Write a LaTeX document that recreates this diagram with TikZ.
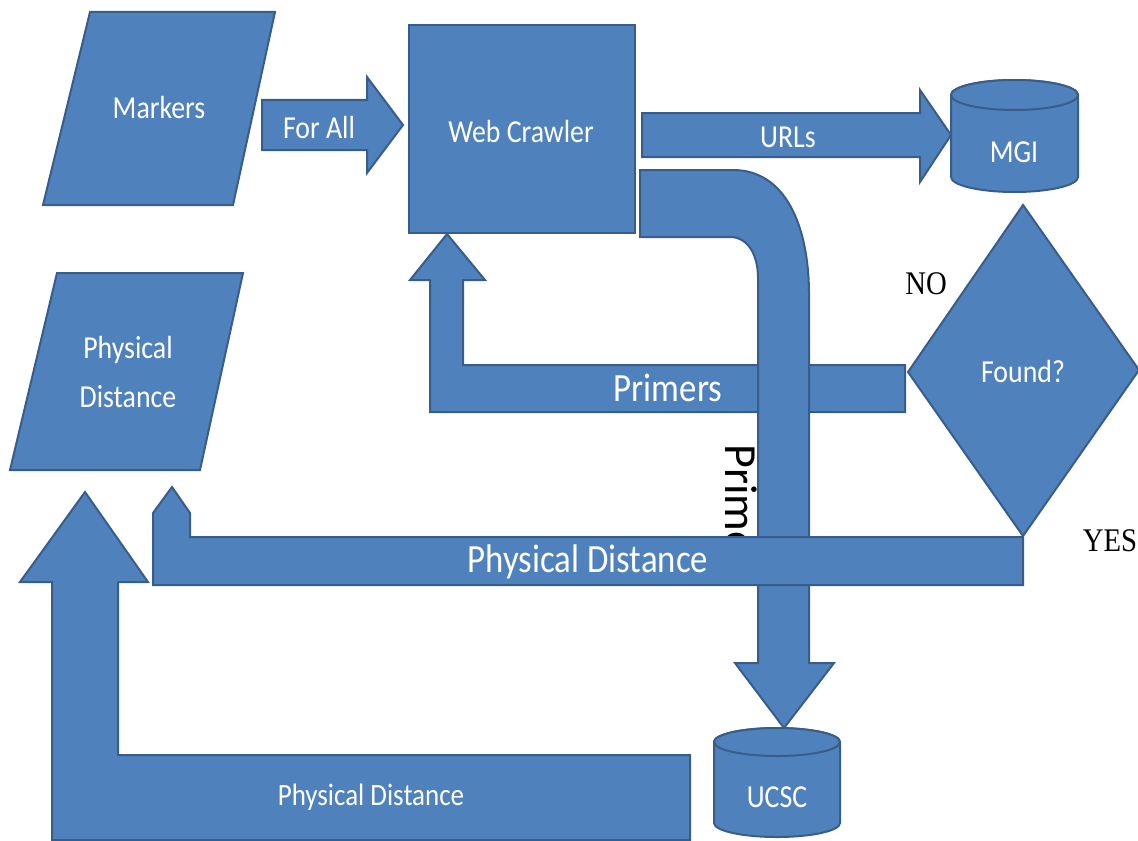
\documentclass[tikz,border=0pt]{standalone}
\usepackage{fontspec}
\setmainfont{Carlito}
\newfontfamily\answerfont{Liberation Serif}
\usepackage{tikz}
\usetikzlibrary{calc}
\definecolor{BlockBlue}{RGB}{79,129,189}
\definecolor{BlockEdge}{RGB}{56,93,138}
\tikzset{
	block/.style={fill=BlockBlue, draw=BlockEdge, line width=1pt},
	squeeze/.style={transform shape, xscale=0.87},
	labeltext/.style={squeeze, text=white, font=\fontsize{16}{19}\selectfont, align=center, inner sep=0pt},
	bigtext/.style={squeeze, text=white, font=\fontsize{20}{24}\selectfont, inner sep=0pt},
	answer/.style={squeeze, text=black, font=\answerfont\fontsize{16.5}{19}\selectfont, inner sep=0pt},
}

\begin{document}
\begin{tikzpicture}[x=0.5pt, y=-0.5pt]
	\useasboundingbox (0,0) rectangle (1138,840);
	
	% input parallelograms
	\draw[block] (90,12) -- (275,12) -- (233,205) -- (43,205) -- cycle;
	\node[labeltext] (markers) at (159,108) {Markers};
	\draw[block] (57,273) -- (243,273) -- (200,470) -- (10,470) -- cycle;
	\node[labeltext, font=\fontsize{16}{24.5}\selectfont] (physdist) at (128,372) {Physical\\Distance};
	
	% crawler box
	\draw[block] (409,25) rectangle (635,233);
	\node[labeltext] (crawler) at (521,132) {Web Crawler};
	
	% markers -> crawler
	\draw[block] (262,100) -- (367,100) -- (367,77) -- (403,125) -- (367,173) -- (367,150) -- (262,150) -- cycle;
	\node[labeltext] (forall) at (319,127) {For All};
	
	% crawler -> MGI
	\draw[block] (642,113) -- (920,113) -- (920,90) -- (951,135) -- (920,182) -- (920,157) -- (642,157) -- cycle;
	\node[labeltext] (urls) at (788,137) {URLs};
	
	% MGI database
	\draw[block] (951,95) -- (951,177) arc[start angle=180, end angle=360, x radius=31.75pt, y radius=7.5pt]
		-- (1078,95) arc[start angle=0, end angle=180, x radius=31.75pt, y radius=7.5pt] -- cycle;
	\draw[block] (1014.5,95) ellipse[x radius=31.75pt, y radius=7.5pt];
	\node[labeltext] (mgi) at (1014,152) {MGI};
	
	% decision
	\draw[block] (1023,205) -- (1139,370) -- (1023,536) -- (908,372) -- cycle;
	\node[labeltext] (found) at (1023,372) {Found?};
	\node[answer] (no) at (926,284) {NO};
	\node[answer] (yes) at (1110,541) {YES};
	
	% NO: primers back to the crawler
	\draw[block] (905,365) -- (463,365) -- (463,280) -- (485,280) -- (447,234) -- (410,280) -- (430,280) -- (430,412) -- (905,412) -- cycle;
	\node[bigtext] (primers) at (668,388) {Primers};
	
	% crawler -> UCSC, bent pipe
	\draw[block] (640,170) -- (733,170) .. controls (785,170) and (809,225) .. (809,295)
		-- (809,663) -- (834,663) -- (784,728) -- (735,663) -- (758,663) -- (758,278)
		.. controls (758,255) and (748,237) .. (730,237) -- (640,237) -- cycle;
	\begin{scope}
		\clip (700,430) rectangle (757,537);
		\node[rotate=-90, anchor=base west, inner sep=0pt, font=\fontsize{23}{26}\selectfont] (primdown) at (725,444) {Primers};
	\end{scope}
	
	% YES: physical distance back to the input
	\draw[block] (1023,537) -- (190,537) -- (190,513) -- (172,487) -- (153,513) -- (153,585) -- (1023,585) -- cycle;
	\node[bigtext] (pdyes) at (588,562) {Physical Distance};
	
	% UCSC database
	\draw[block] (714,742) -- (714,823) arc[start angle=180, end angle=360, x radius=31.5pt, y radius=7pt]
		-- (840,742) arc[start angle=0, end angle=180, x radius=31.5pt, y radius=7pt] -- cycle;
	\draw[block] (777,742) ellipse[x radius=31.5pt, y radius=7pt];
	\node[labeltext] (ucsc) at (777,797) {UCSC};
	
	% UCSC -> physical distance input
	\draw[block] (690,755) -- (118,755) -- (118,582) -- (148,582) -- (85,492) -- (20,582) -- (52,582) -- (52,840) -- (690,840) -- cycle;
	\node[labeltext, font=\fontsize{15.5}{18}\selectfont] (pdbottom) at (371,797) {Physical Distance};
\end{tikzpicture}
\end{document}
